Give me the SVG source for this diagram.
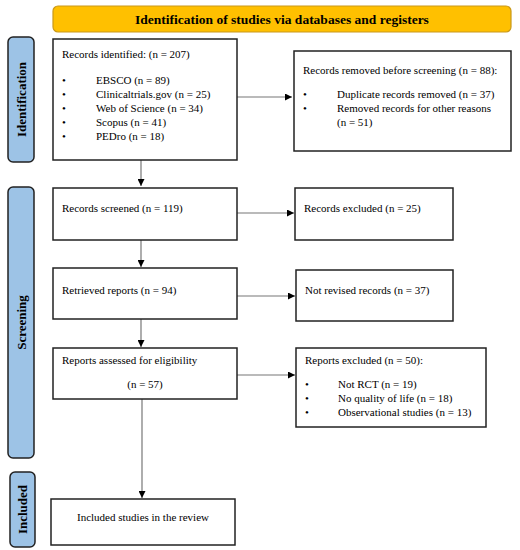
<svg xmlns="http://www.w3.org/2000/svg" width="520" height="550" viewBox="0 0 520 550">
<defs>
<marker id="ah" viewBox="0 0 10 10" refX="10" refY="5" markerWidth="7" markerHeight="7" markerUnits="userSpaceOnUse" orient="auto">
<path d="M0,0 L10,5 L0,10 z" fill="#000"/>
</marker>
<style>
.box{fill:#fff;stroke:#222;stroke-width:1.5}
.side{fill:#9dc3e6;stroke:#222;stroke-width:1.5}
.t{font-family:"Liberation Serif","Times New Roman",serif;font-size:11px;fill:#000}
.b{font-family:"Liberation Serif","Times New Roman",serif;font-size:13px;font-weight:bold;fill:#000}
.h{font-size:13.5px}
.c{fill:none;stroke:#777;stroke-width:1.2}
</style>
</defs>
<rect width="520" height="550" fill="#fff"/>
<g id="header">
<rect x="53" y="6" width="458" height="26" rx="5" fill="#ffc000" stroke="#c9981a" stroke-width="1.2"/>
<text class="b h" x="282" y="23.5" text-anchor="middle">Identification of studies via databases and registers</text>
</g>
<g id="side-identification">
<rect class="side" x="8" y="37" width="26" height="125" rx="5"/>
<text class="b" transform="translate(26,99.5) rotate(-90)" text-anchor="middle">Identification</text>
</g>
<g id="side-screening">
<rect class="side" x="8" y="187" width="26" height="271" rx="5"/>
<text class="b" transform="translate(26,322.5) rotate(-90)" text-anchor="middle">Screening</text>
</g>
<g id="side-included">
<rect class="side" x="10" y="472" width="25" height="75" rx="5"/>
<text class="b" transform="translate(27,509.5) rotate(-90)" text-anchor="middle">Included</text>
</g>
<g id="connectors">
<path class="c" d="M141,160 V186" marker-end="url(#ah)"/>
<path class="c" d="M237,97 H292" marker-end="url(#ah)"/>
<path class="c" d="M141,240 V267" marker-end="url(#ah)"/>
<path class="c" d="M237,213 H294" marker-end="url(#ah)"/>
<path class="c" d="M141,319 V347" marker-end="url(#ah)"/>
<path class="c" d="M237,296 H295" marker-end="url(#ah)"/>
<path class="c" d="M142,399 V498" marker-end="url(#ah)"/>
<path class="c" d="M237,375 H295" marker-end="url(#ah)"/>
</g>
<g id="records-identified">
<rect class="box" x="53" y="39" width="184" height="121"/>
<text class="t" x="62" y="58">Records identified: (n = 207)</text>
<text class="t" x="62" y="84">•</text><text class="t" x="96" y="84">EBSCO (n = 89)</text>
<text class="t" x="62" y="98">•</text><text class="t" x="96" y="98">Clinicaltrials.gov  (n = 25)</text>
<text class="t" x="62" y="112">•</text><text class="t" x="96" y="112">Web of Science (n = 34)</text>
<text class="t" x="62" y="126">•</text><text class="t" x="96" y="126">Scopus (n = 41)</text>
<text class="t" x="62" y="140">•</text><text class="t" x="96" y="140">PEDro (n = 18)</text>
</g>
<g id="records-removed">
<rect class="box" x="294" y="51" width="217" height="100"/>
<text class="t" x="303" y="74">Records removed before screening (n = 88):</text>
<text class="t" x="303" y="98">•</text><text class="t" x="337" y="98">Duplicate records removed (n = 37)</text>
<text class="t" x="303" y="112">•</text><text class="t" x="337" y="112">Removed records for other reasons</text>
<text class="t" x="337" y="126">(n = 51)</text>
</g>
<g id="records-screened">
<rect class="box" x="53" y="188" width="184" height="52"/>
<text class="t" x="62" y="212">Records screened (n = 119)</text>
</g>
<g id="records-excluded">
<rect class="box" x="295" y="188" width="158" height="52"/>
<text class="t" x="304" y="212">Records excluded (n = 25)</text>
</g>
<g id="retrieved-reports">
<rect class="box" x="53" y="268" width="184" height="51"/>
<text class="t" x="62" y="294">Retrieved reports (n = 94)</text>
</g>
<g id="not-revised">
<rect class="box" x="296" y="270" width="157" height="51"/>
<text class="t" x="305" y="294">Not revised records (n = 37)</text>
</g>
<g id="reports-assessed">
<rect class="box" x="53" y="348" width="184" height="51"/>
<text class="t" x="62" y="364">Reports assessed for eligibility</text>
<text class="t" x="145" y="388" text-anchor="middle">(n = 57)</text>
</g>
<g id="reports-excluded">
<rect class="box" x="296" y="348" width="190" height="79"/>
<text class="t" x="305" y="364">Reports excluded (n = 50):</text>
<text class="t" x="305" y="388">•</text><text class="t" x="338" y="388">Not RCT (n = 19)</text>
<text class="t" x="305" y="402">•</text><text class="t" x="338" y="402">No quality of life (n = 18)</text>
<text class="t" x="305" y="416">•</text><text class="t" x="338" y="416">Observational studies (n = 13)</text>
</g>
<g id="included-studies">
<rect class="box" x="51" y="499" width="184" height="46"/>
<text class="t" x="143" y="521" text-anchor="middle">Included studies in the review</text>
</g>
</svg>
